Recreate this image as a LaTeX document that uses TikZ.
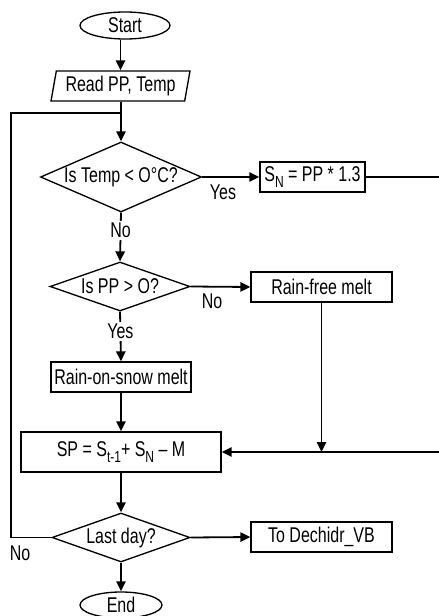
\documentclass[tikz,border=0pt]{standalone}
\usepackage{fontspec}
\setmainfont[FakeStretch=0.75]{Liberation Sans}
\usetikzlibrary{shapes.geometric,arrows.meta}
\newcommand{\sbs}[1]{\raisebox{-5pt}{\fontsize{12pt}{12pt}\selectfont #1}}
\begin{document}
\begin{tikzpicture}[x=0.75pt,y=-0.75pt,
  every node/.style={font=\fontsize{16pt}{18pt}\selectfont, inner sep=0pt},
  ln/.style={line width=1.35pt},
  arr/.style={ln,-{Triangle[length=7.5pt,width=7pt]}},
  box/.style={draw, line width=1pt, rectangle, align=center},
  term/.style={draw, line width=1pt, ellipse, inner ysep=-3pt},
  dec/.style={draw, line width=1pt, diamond, inner ysep=-3pt},
  io/.style={draw, line width=1pt, trapezium, trapezium left angle=75, trapezium right angle=105, trapezium stretches body},
  lab/.style={fill=white, inner sep=1.5pt}
]
\useasboundingbox (0,0) rectangle (438,616);

\node[term, minimum width=90*0.75pt, minimum height=27*0.75pt] (start) at (125,25.5) {Start};
\node[io, minimum width=139*0.75pt, minimum height=30*0.75pt] (read) at (120.5,86) {Read PP, Temp};
\node[dec, aspect=2.3, minimum width=161*0.75pt, minimum height=70*0.75pt] (d1) at (121,177) {Is Temp < O°C?};
\node[box, minimum width=105*0.75pt, minimum height=30*0.75pt] (sn) at (312.5,177) {S\sbs{N} = PP * 1.3};
\node[dec, aspect=2.86, minimum width=140*0.75pt, minimum height=49*0.75pt] (d2) at (120,286.5) {Is PP > O?};
\node[box, minimum width=141*0.75pt, minimum height=30*0.75pt] (rf) at (321.5,287) {Rain-free melt};
\node[box, minimum width=140*0.75pt, minimum height=30*0.75pt] (ros) at (121,377) {Rain-on-snow melt};
\node[box, minimum width=200*0.75pt, minimum height=40*0.75pt] (sp) at (121,452) {SP = S\sbs{t-1}+ S\sbs{N} – M};
\node[dec, aspect=2.82, minimum width=138*0.75pt, minimum height=49*0.75pt] (d3) at (121,537.5) {Last day?};
\node[box, minimum width=141*0.75pt, minimum height=30*0.75pt] (vb) at (321.5,537) {To Dechidr\_VB};
\node[term, minimum width=82*0.75pt, minimum height=26*0.75pt] (end) at (121,605) {End};

\coordinate (junc) at (121,113);
\coordinate (lb) at (11,537.5);
\coordinate (lt) at (11,113);
\coordinate (rt) at (442,177);
\coordinate (rb) at (442,452);

\draw[arr] (start.south -| read.north) -- (read.north);
\draw[arr] (read.south -| d1.north) -- (d1.north);
\draw[arr] (d1.east) -- (sn.west);
\node at (223,192) {Yes};
\draw[ln] (sn.east) -- (rt) -- (rb);
\draw[arr] (rb) -- (sp.east);
\draw[arr] (d1.south) -- (d2.north) node[lab, pos=0.36] {No};
\draw[arr] (d2.east) -- (rf.west);
\node at (212,301) {No};
\draw[arr] (d2.south) -- (ros.north) node[lab, pos=0.4] {Yes};
\draw[arr] (ros.south) -- (sp.north);
\draw[arr] (rf.south) -- (rf.south |- sp.east);
\draw[arr] (sp.south) -- (d3.north);
\draw[ln] (d3.west) -- (lb) -- (lt) -- (junc);
\node at (20,553) {No};
\draw[arr] (d3.east) -- (vb.west);
\draw[arr] (d3.south) -- (end.north);
\end{tikzpicture}
\end{document}
